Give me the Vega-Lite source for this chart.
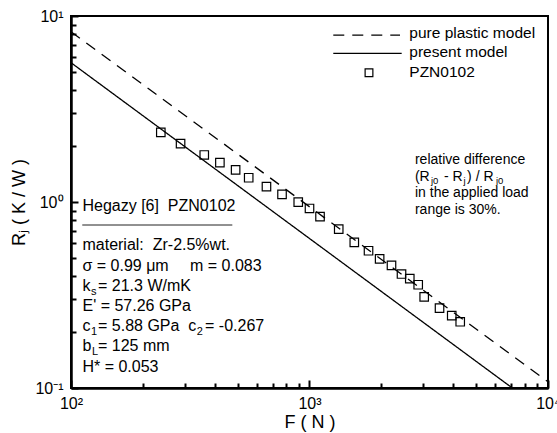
{
  "$schema": "https://vega.github.io/schema/vega-lite/v6.json",
  "width": 477,
  "height": 372,
  "autosize": {"type": "none"},
  "padding": {"left": 71, "top": 16, "right": 9, "bottom": 45},
  "background": "white",
  "config": {
    "view": {"stroke": "black", "strokeWidth": 2},
    "font": "Liberation Sans",
    "axis": {"grid": false, "labelFont": "Liberation Sans", "titleFont": "Liberation Sans", "labelColor": "black", "titleColor": "black", "titleFontWeight": "normal"},
    "text": {"font": "Liberation Sans", "color": "black"}
  },
  "datasets": {
    "models": [
      {"model": "pure plastic model", "F": 100, "R": 8.23},
      {"model": "pure plastic model", "F": 10000, "R": 0.108},
      {"model": "present model", "F": 100, "R": 5.61},
      {"model": "present model", "F": 7085, "R": 0.1}
    ],
    "points": [
      {"F": 238, "R": 2.37}, {"F": 288, "R": 2.06}, {"F": 362, "R": 1.79}, {"F": 421, "R": 1.63},
      {"F": 490, "R": 1.49}, {"F": 556, "R": 1.35}, {"F": 660, "R": 1.21}, {"F": 767, "R": 1.10},
      {"F": 897, "R": 0.998}, {"F": 1000, "R": 0.923}, {"F": 1107, "R": 0.834}, {"F": 1326, "R": 0.714},
      {"F": 1541, "R": 0.607}, {"F": 1768, "R": 0.547}, {"F": 1968, "R": 0.494}, {"F": 2207, "R": 0.456},
      {"F": 2431, "R": 0.410}, {"F": 2633, "R": 0.387}, {"F": 2856, "R": 0.359}, {"F": 3026, "R": 0.309},
      {"F": 3509, "R": 0.269}, {"F": 3948, "R": 0.245}, {"F": 4285, "R": 0.227}
    ],
    "legendLines": [
      {"model": "pure plastic model", "F": 1258, "R": 7.90},
      {"model": "pure plastic model", "F": 2396, "R": 7.90},
      {"model": "present model", "F": 1258, "R": 6.30},
      {"model": "present model", "F": 2435, "R": 6.30}
    ],
    "legendPts": [{"F": 1776, "R": 4.956}],
    "sep": [{"F": 111.5, "F2": 474.7, "R": 0.7522}],
    "notes": [
      {"g": "left", "F": 111.7, "R": 0.8946, "t": "Hegazy [6]\u00a0 PZN0102"},
      {"g": "left", "F": 111.7, "R": 0.5486, "t": "material:\u00a0 Zr-2.5%wt."},
      {"g": "left", "F": 111.7, "R": 0.4272, "t": "σ = 0.99 μm"},
      {"g": "left", "F": 315.5, "R": 0.4272, "t": "m = 0.083"},
      {"g": "left", "F": 111.7, "R": 0.3327, "t": "k"},
      {"g": "leftSub", "F": 121.3, "R": 0.3166, "t": "s"},
      {"g": "left", "F": 129.8, "R": 0.3327, "t": "= 21.3 W/mK"},
      {"g": "left", "F": 111.7, "R": 0.2592, "t": "E' = 57.26 GPa"},
      {"g": "left", "F": 111.7, "R": 0.2018, "t": "c"},
      {"g": "leftSub", "F": 121.3, "R": 0.1920, "t": "1"},
      {"g": "left", "F": 129.8, "R": 0.2018, "t": "= 5.88 GPa"},
      {"g": "left", "F": 310.3, "R": 0.2018, "t": "c"},
      {"g": "leftSub", "F": 336.5, "R": 0.1920, "t": "2"},
      {"g": "left", "F": 364.7, "R": 0.2018, "t": "= -0.267"},
      {"g": "left", "F": 111.7, "R": 0.1572, "t": "b"},
      {"g": "leftSub", "F": 122.5, "R": 0.1496, "t": "L"},
      {"g": "left", "F": 129.8, "R": 0.1572, "t": "= 125 mm"},
      {"g": "left", "F": 111.7, "R": 0.1224, "t": "H* = 0.053"},
      {"g": "legend", "F": 2621, "R": 7.569, "t": "pure plastic model"},
      {"g": "legend", "F": 2621, "R": 5.997, "t": "present model"},
      {"g": "legend", "F": 2621, "R": 4.717, "t": "PZN0102"},
      {"g": "rel", "F": 2768, "R": 1.601, "t": "relative difference"},
      {"g": "rel", "F": 2768, "R": 1.302, "t": "(R"},
      {"g": "relSub", "F": 3230, "R": 1.254, "t": "j0"},
      {"g": "rel", "F": 3660, "R": 1.302, "t": "- R"},
      {"g": "relSub", "F": 4420, "R": 1.254, "t": "j"},
      {"g": "rel", "F": 4580, "R": 1.302, "t": ") / R"},
      {"g": "relSub", "F": 6050, "R": 1.254, "t": "j0"},
      {"g": "rel", "F": 2768, "R": 1.0599, "t": "in the applied load"},
      {"g": "rel", "F": 2768, "R": 0.8619, "t": "range is 30%."}
    ]
  },
  "encoding": {
    "x": {"field": "F", "type": "quantitative", "scale": {"type": "log", "domain": [100, 10000], "nice": false}, "axis": null},
    "y": {"field": "R", "type": "quantitative", "scale": {"type": "log", "domain": [0.1, 10], "nice": false}, "axis": null}
  },
  "layer": [
    {
      "data": {"name": "models"},
      "mark": {"type": "line", "color": "black", "strokeWidth": 1.3},
      "encoding": {
        "x": {"field": "F", "type": "quantitative", "scale": {"type": "log", "domain": [100, 10000], "nice": false},
          "axis": {"orient": "bottom", "zindex": 1, "values": [100, 1000, 10000], "labelExpr": "datum.value < 500 ? '10²' : datum.value < 5000 ? '10³' : '10⁴'", "labelFontSize": 16, "labelFlush": false, "domainColor": "black", "domainWidth": 2, "tickColor": "#000000", "tickSize": -8, "tickWidth": 2, "labelPadding": 15, "title": "F ( N )", "titleFontSize": 18, "titlePadding": 2}},
        "y": {"field": "R", "type": "quantitative", "scale": {"type": "log", "domain": [0.1, 10], "nice": false},
          "axis": {"orient": "left", "zindex": 1, "values": [0.1, 1, 10], "labelExpr": "datum.value < 0.5 ? '10⁻¹' : datum.value < 5 ? '10⁰' : '10¹'", "labelFontSize": 16, "labelFlush": false, "domainColor": "black", "domainWidth": 2, "tickColor": "#000000", "tickSize": -7, "tickWidth": 2, "labelPadding": 15, "title": "Rⱼ ( K / W )", "titleFontSize": 18, "titlePadding": 6}},
        "detail": {"field": "model"},
        "strokeDash": {"field": "model", "type": "nominal", "scale": {"domain": ["pure plastic model", "present model"], "range": [[11, 8], [1, 0]]}, "legend": null}
      }
    },
    {
      "data": {"name": "points"},
      "mark": {"type": "point", "shape": "square", "filled": false, "color": "black", "strokeWidth": 1.2, "size": 72, "opacity": 1},
      "encoding": {
        "x": {"field": "F", "type": "quantitative", "scale": {"type": "log", "domain": [100, 10000], "nice": false},
          "axis": {"orient": "bottom", "zindex": 1, "values": [200, 300, 400, 500, 600, 700, 800, 900, 2000, 3000, 4000, 5000, 6000, 7000, 8000, 9000], "labels": false, "domainColor": "black", "domainWidth": 2, "tickColor": "#000000", "tickSize": -5, "tickWidth": 2, "title": null}},
        "y": {"field": "R", "type": "quantitative", "scale": {"type": "log", "domain": [0.1, 10], "nice": false},
          "axis": {"orient": "left", "zindex": 1, "values": [0.2, 0.3, 0.4, 0.5, 0.6, 0.7, 0.8, 0.9, 2, 3, 4, 5, 6, 7, 8, 9], "labels": false, "domainColor": "black", "domainWidth": 2, "tickColor": "#000000", "tickSize": -5, "tickWidth": 2, "title": null}}
      }
    },
    {
      "data": {"name": "legendLines"},
      "mark": {"type": "line", "color": "black", "strokeWidth": 1.3},
      "encoding": {
        "detail": {"field": "model"},
        "strokeDash": {"field": "model", "type": "nominal", "scale": {"domain": ["pure plastic model", "present model"], "range": [[11, 8], [1, 0]]}, "legend": null}
      }
    },
    {
      "data": {"name": "legendPts"},
      "mark": {"type": "point", "shape": "square", "filled": false, "color": "black", "strokeWidth": 1.2, "size": 60, "opacity": 1},
      "encoding": {}
    },
    {
      "data": {"name": "sep"},
      "mark": {"type": "rule", "color": "#222222", "strokeWidth": 1},
      "encoding": {"x2": {"field": "F2"}}
    },
    {
      "data": {"name": "notes"},
      "transform": [{"filter": "datum.g == 'left'"}],
      "mark": {"type": "text", "align": "left", "baseline": "alphabetic", "fontSize": 16},
      "encoding": {"text": {"field": "t"}}
    },
    {
      "data": {"name": "notes"},
      "transform": [{"filter": "datum.g == 'leftSub'"}],
      "mark": {"type": "text", "align": "left", "baseline": "alphabetic", "fontSize": 11},
      "encoding": {"text": {"field": "t"}}
    },
    {
      "data": {"name": "notes"},
      "transform": [{"filter": "datum.g == 'legend'"}],
      "mark": {"type": "text", "align": "left", "baseline": "alphabetic", "fontSize": 15.5},
      "encoding": {"text": {"field": "t"}}
    },
    {
      "data": {"name": "notes"},
      "transform": [{"filter": "datum.g == 'rel'"}],
      "mark": {"type": "text", "align": "left", "baseline": "alphabetic", "fontSize": 14},
      "encoding": {"text": {"field": "t"}}
    },
    {
      "data": {"name": "notes"},
      "transform": [{"filter": "datum.g == 'relSub'"}],
      "mark": {"type": "text", "align": "left", "baseline": "alphabetic", "fontSize": 9.5},
      "encoding": {"text": {"field": "t"}}
    }
  ],
  "resolve": {"axis": {"x": "independent", "y": "independent"}}
}
